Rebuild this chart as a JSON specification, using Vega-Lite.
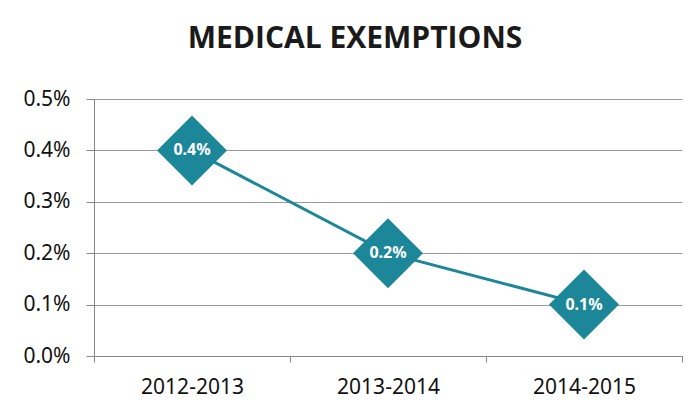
{
  "$schema": "https://vega.github.io/schema/vega-lite/v6.json",
  "width": 588,
  "height": 257,
  "autosize": {"type": "none"},
  "padding": {"left": 94, "top": 99, "right": 12, "bottom": 53},
  "background": "white",
  "title": {
    "text": "MEDICAL EXEMPTIONS",
    "font": "Open Sans",
    "fontSize": 30,
    "fontWeight": "bold",
    "color": "#1a1a1a",
    "anchor": "middle",
    "dx": -33,
    "offset": 34
  },
  "data": {
    "values": [
      {"year": "2012-2013", "rate": 0.004},
      {"year": "2013-2014", "rate": 0.002},
      {"year": "2014-2015", "rate": 0.001}
    ]
  },
  "encoding": {
    "x": {
      "field": "year",
      "type": "nominal",
      "sort": null,
      "scale": {"type": "band", "paddingInner": 0, "paddingOuter": 0},
      "axis": {
        "title": null,
        "labelAngle": 0,
        "labelFont": "Noto Sans",
        "labelFontSize": 21,
        "labelColor": "#111",
        "labelPadding": 14,
        "tickBand": "extent",
        "tickSize": 6,
        "tickColor": "#888",
        "domainColor": "#888",
        "grid": false
      }
    },
    "y": {
      "field": "rate",
      "type": "quantitative",
      "scale": {"domain": [0, 0.005]},
      "axis": {
        "title": null,
        "format": ".1%",
        "values": [0, 0.001, 0.002, 0.003, 0.004, 0.005],
        "labelFont": "Noto Sans",
        "labelFontSize": 21,
        "labelColor": "#111",
        "labelPadding": 16,
        "tickSize": 8,
        "tickColor": "#888",
        "domainColor": "#888",
        "gridColor": "#999",
        "gridWidth": 1
      }
    }
  },
  "layer": [
    {"mark": {"type": "line", "color": "#1b8799", "strokeWidth": 3}},
    {"mark": {"type": "point", "shape": "diamond", "size": 4900, "filled": true, "color": "#1b8799", "opacity": 1}},
    {
      "mark": {"type": "text", "color": "white", "font": "Noto Sans", "fontWeight": "bold", "fontSize": 16},
      "encoding": {"text": {"field": "rate", "type": "quantitative", "format": ".1%"}}
    }
  ],
  "config": {"view": {"stroke": null}}
}
